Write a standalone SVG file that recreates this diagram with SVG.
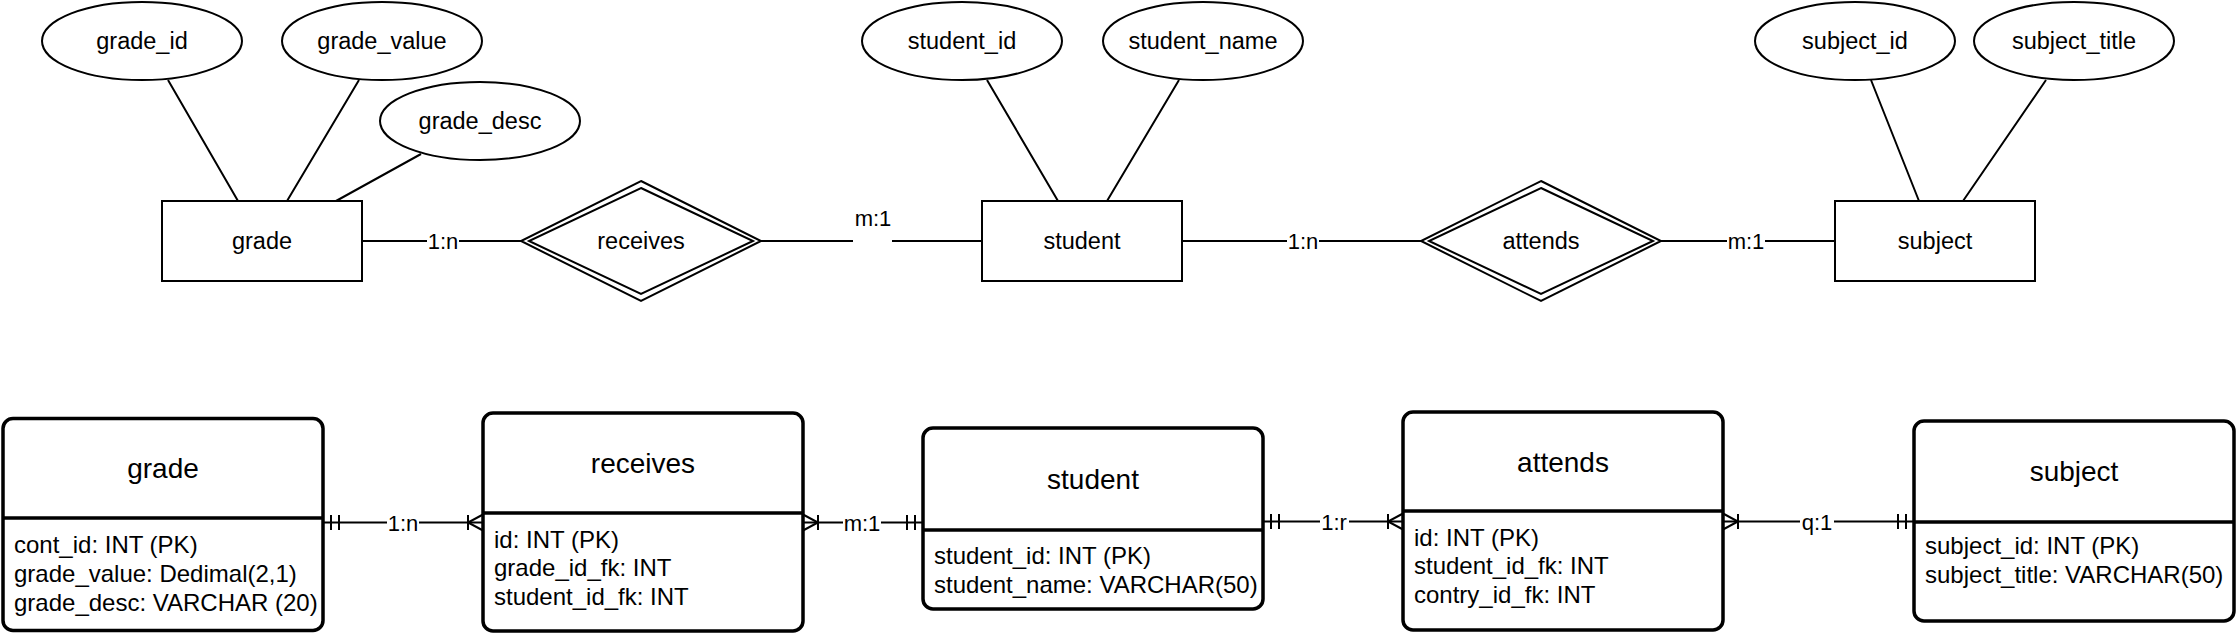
<svg xmlns="http://www.w3.org/2000/svg" width="2236" height="636" viewBox="0 0 2236 636">
<style>
text{font-family:"Liberation Sans",Arial,Helvetica,sans-serif;fill:#000}
.c{text-anchor:middle}
.a{font-size:23.5px}
.lb{font-size:22px}
.ti{font-size:28px}
.f{font-size:24px}
.s{fill:#fff;stroke:#000;stroke-width:2}
.tb{fill:#fff;stroke:#000;stroke-width:3.5}
.dv{stroke:#000;stroke-width:3.5;fill:none}
.ln{stroke:#000;stroke-width:2;fill:none}
.bg{fill:#fff}
</style>
<defs>
<marker id="one" viewBox="0 0 20 20" markerWidth="20" markerHeight="20" refX="20" refY="10" orient="auto-start-reverse" markerUnits="userSpaceOnUse" overflow="visible"><path d="M4 2.5V17.5M12 2.5V17.5" stroke="#000" stroke-width="2" fill="none"/></marker>
<marker id="many" viewBox="0 0 20 20" markerWidth="20" markerHeight="20" refX="20" refY="10" orient="auto-start-reverse" markerUnits="userSpaceOnUse" overflow="visible"><path d="M20 2 L5 10 L20 18 M5 2.5V17.5" stroke="#000" stroke-width="2" fill="none"/></marker>
</defs>
<g id="connectors">
<path class="ln" d="M168 80L238 201M359 80L287 201M421 154L336 201M987 80L1058 201M1179 80L1107 201M1871 80L1919 201M2046 80L1963 201"/>
<path class="ln" d="M362 241H521M761 241H853M892 241H982M1182 241H1421M1661 241H1835"/>
<rect class="bg" x="427" y="229" width="32" height="24"/><text class="c lb" x="443" y="248.5">1:n</text>
<text class="c lb" x="873" y="226">m:1</text>
<rect class="bg" x="1287" y="229" width="32" height="24"/><text class="c lb" x="1303" y="248.5">1:n</text>
<rect class="bg" x="1727" y="229" width="38" height="24"/><text class="c lb" x="1746" y="248.5">m:1</text>
<line class="ln" x1="323" y1="522.5" x2="483" y2="522.5" marker-start="url(#one)" marker-end="url(#many)"/>
<rect class="bg" x="387" y="512" width="32" height="22"/><text class="c lb" x="403" y="531">1:n</text>
<line class="ln" x1="803" y1="522.5" x2="923" y2="522.5" marker-start="url(#many)" marker-end="url(#one)"/>
<rect class="bg" x="843" y="512" width="38" height="22"/><text class="c lb" x="862" y="531">m:1</text>
<line class="ln" x1="1263" y1="521.5" x2="1403" y2="521.5" marker-start="url(#one)" marker-end="url(#many)"/>
<rect class="bg" x="1320" y="511" width="29" height="22"/><text class="c lb" x="1334" y="530">1:r</text>
<line class="ln" x1="1723" y1="521.5" x2="1914" y2="521.5" marker-start="url(#many)" marker-end="url(#one)"/>
<rect class="bg" x="1800" y="511" width="34" height="22"/><text class="c lb" x="1817" y="530">q:1</text>
</g>
<g id="attr-grade_id"><ellipse class="s" cx="142" cy="41" rx="100" ry="39"/><text class="c a" x="142" y="49">grade_id</text></g>
<g id="attr-grade_value"><ellipse class="s" cx="382" cy="41" rx="100" ry="39"/><text class="c a" x="382" y="49">grade_value</text></g>
<g id="attr-grade_desc"><ellipse class="s" cx="480" cy="121" rx="100" ry="39"/><text class="c a" x="480" y="129">grade_desc</text></g>
<g id="attr-student_id"><ellipse class="s" cx="962" cy="41" rx="100" ry="39"/><text class="c a" x="962" y="49">student_id</text></g>
<g id="attr-student_name"><ellipse class="s" cx="1203" cy="41" rx="100" ry="39"/><text class="c a" x="1203" y="49">student_name</text></g>
<g id="attr-subject_id"><ellipse class="s" cx="1855" cy="41" rx="100" ry="39"/><text class="c a" x="1855" y="49">subject_id</text></g>
<g id="attr-subject_title"><ellipse class="s" cx="2074" cy="41" rx="100" ry="39"/><text class="c a" x="2074" y="49">subject_title</text></g>
<g id="ent-grade"><rect class="s" x="162" y="201" width="200" height="80"/><text class="c a" x="262" y="249">grade</text></g>
<g id="ent-student"><rect class="s" x="982" y="201" width="200" height="80"/><text class="c a" x="1082" y="249">student</text></g>
<g id="ent-subject"><rect class="s" x="1835" y="201" width="200" height="80"/><text class="c a" x="1935" y="249">subject</text></g>
<g id="rel-receives"><path class="s" d="M641 181L761 241L641 301L521 241Z"/><path class="s" d="M641 188L753 241L641 294L529 241Z"/><text class="c a" x="641" y="249">receives</text></g>
<g id="rel-attends"><path class="s" d="M1541 181L1661 241L1541 301L1421 241Z"/><path class="s" d="M1541 188L1653 241L1541 294L1429 241Z"/><text class="c a" x="1541" y="249">attends</text></g>
<g id="tbl-grade"><rect class="tb" x="3" y="418.5" width="320" height="212" rx="10"/><path class="dv" d="M3 518H323"/><text class="c ti" x="163" y="478">grade</text>
<text class="f" x="14" y="553">cont_id: INT (PK)</text><text class="f" x="14" y="582">grade_value: Dedimal(2,1)</text><text class="f" x="14" y="611">grade_desc: VARCHAR (20)</text></g>
<g id="tbl-receives"><rect class="tb" x="483" y="413" width="320" height="218" rx="10"/><path class="dv" d="M483 513H803"/><text class="c ti" x="643" y="473">receives</text>
<text class="f" x="494" y="548">id: INT (PK)</text><text class="f" x="494" y="576">grade_id_fk: INT</text><text class="f" x="494" y="605">student_id_fk: INT</text></g>
<g id="tbl-student"><rect class="tb" x="923" y="428" width="340" height="181" rx="10"/><path class="dv" d="M923 530H1263"/><text class="c ti" x="1093" y="489">student</text>
<text class="f" x="934" y="564">student_id: INT (PK)</text><text class="f" x="934" y="593">student_name: VARCHAR(50)</text></g>
<g id="tbl-attends"><rect class="tb" x="1403" y="412" width="320" height="218" rx="10"/><path class="dv" d="M1403 511H1723"/><text class="c ti" x="1563" y="472">attends</text>
<text class="f" x="1414" y="546">id: INT (PK)</text><text class="f" x="1414" y="574">student_id_fk: INT</text><text class="f" x="1414" y="603">contry_id_fk: INT</text></g>
<g id="tbl-subject"><rect class="tb" x="1914" y="421" width="320" height="200" rx="10"/><path class="dv" d="M1914 522H2234"/><text class="c ti" x="2074" y="481">subject</text>
<text class="f" x="1925" y="554">subject_id: INT (PK)</text><text class="f" x="1925" y="583">subject_title: VARCHAR(50)</text></g>
</svg>
